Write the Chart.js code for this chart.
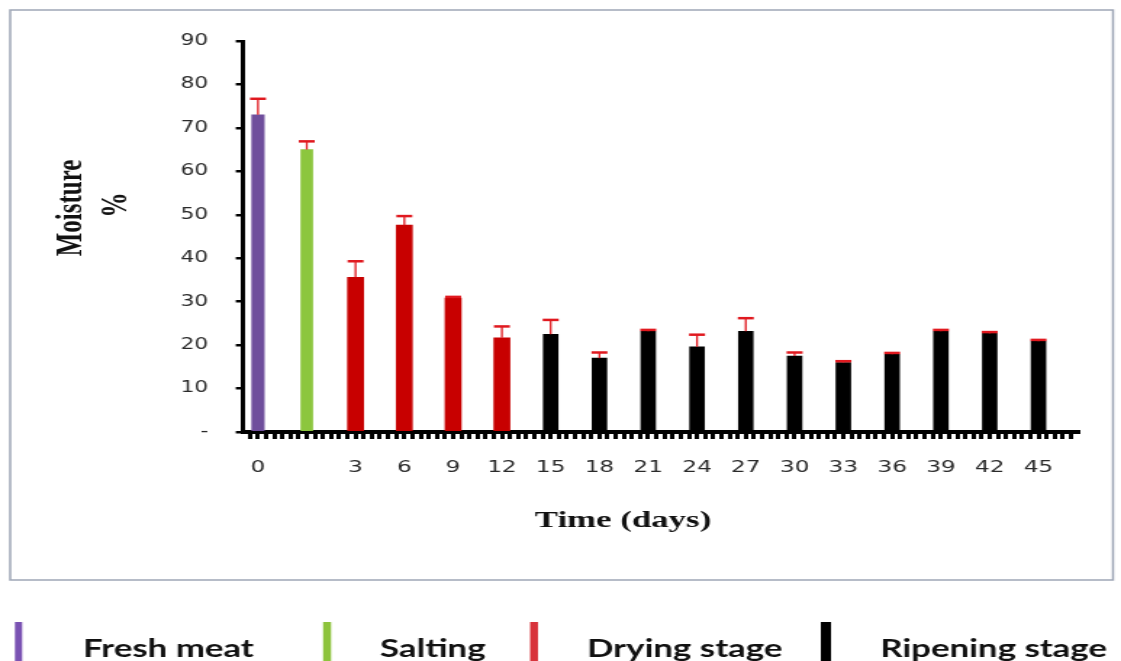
<!DOCTYPE html>
<html>
<head>
<meta charset="utf-8">
<script src="https://cdn.jsdelivr.net/npm/chart.js@4"></script>
<style>
  html, body { margin: 0; padding: 0; background: #fff; overflow: hidden; }
  /* the figure is laid out on a narrower canvas and widened horizontally */
  #wrap { width: 773px; height: 661px; transform: scaleX(1.4502); transform-origin: 0 0; }
</style>
</head>
<body>
<div id="wrap"><canvas id="c" width="773" height="661"></canvas></div>
<script>
// Sampling points (days); the salting sample has no day label
const dayLabels = ['0', '', '3', '6', '9', '12', '15', '18', '21', '24', '27', '30', '33', '36', '39', '42', '45'];
// Moisture content (%) and its error
const moisture    = [73.0, 65.0, 35.6, 47.6, 30.8, 21.7, 22.5, 17.0, 23.2, 19.6, 23.2, 17.5, 16.0, 17.9, 23.2, 22.7, 20.9];
const moistureErr = [3.7, 1.9, 3.7, 2.1, 0.3, 2.6, 3.3, 1.3, 0.3, 2.8, 3.0, 0.8, 0.3, 0.3, 0.3, 0.3, 0.3];
// Processing stage of each sample
const stageOf = [0, 1, 2, 2, 2, 2, 3, 3, 3, 3, 3, 3, 3, 3, 3, 3, 3];
const stageNames = ['Fresh meat', 'Salting', 'Drying stage', 'Ripening stage'];
const stageColors = ['#6f4e9c', '#8cc63e', '#c80000', '#000000'];
const legendColors = ['#7a52b3', '#8dc33b', '#d8333b', '#000000'];
const stageBarWidth = [8.5, 8, 11, 10];
// Y axis ticks
const yTickValues = [0, 10, 20, 30, 40, 50, 60, 70, 80, 90];
const yTickLabels = ['-', '10', '20', '30', '40', '50', '60', '70', '80', '90'];

const datasets = stageNames.map((name, k) => ({
  label: name,
  data: moisture.map((v, i) => ({ x: i, y: v })).filter(p => stageOf[p.x] === k),
  backgroundColor: stageColors[k],
  borderWidth: 0,
  barThickness: stageBarWidth[k],
  grouped: false
}));

const errorBars = {
  id: 'errorBars',
  afterDatasetsDraw(chart) {
    const ctx = chart.ctx, ys = chart.scales.y;
    ctx.save();
    ctx.strokeStyle = '#e0191f';
    chart.data.datasets.forEach((ds, k) => {
      chart.getDatasetMeta(k).data.forEach((bar, j) => {
        const idx = ds.data[j].x;
        const top = ys.getPixelForValue(moisture[idx] + moistureErr[idx]);
        ctx.lineWidth = 1.3;
        ctx.beginPath(); ctx.moveTo(bar.x, bar.y); ctx.lineTo(bar.x, top); ctx.stroke();
        ctx.lineWidth = 2.5;
        ctx.beginPath(); ctx.moveTo(bar.x - 5.5, top); ctx.lineTo(bar.x + 5.5, top); ctx.stroke();
      });
    });
    ctx.restore();
  }
};

const decorations = {
  id: 'decorations',
  beforeDraw(chart) {
    const ctx = chart.ctx;
    ctx.save();
    ctx.fillStyle = '#fff';
    ctx.fillRect(0, 0, chart.width, chart.height);
    ctx.strokeStyle = '#9ea6b6';
    ctx.lineWidth = 1.5;
    ctx.strokeRect(7, 10, 760.5, 570);
    ctx.restore();
  },
  afterDraw(chart) {
    const ctx = chart.ctx;
    ctx.save();
    ctx.fillStyle = '#111';
    ctx.textAlign = 'center';
    ctx.textBaseline = 'middle';
    // axis titles
    ctx.font = 'bold 24px "Liberation Serif"';
    ctx.fillText('Time (days)', 429.6, 521);
    ctx.save();
    ctx.translate(49.7, 208);
    ctx.rotate(-Math.PI / 2);
    ctx.font = 'bold 25px "Liberation Serif"';
    ctx.fillText('Moisture', 0, 0);
    ctx.restore();
    ctx.save();
    ctx.translate(80.7, 205);
    ctx.rotate(-Math.PI / 2);
    ctx.font = 'bold 25px "Liberation Serif"';
    ctx.fillText('%', 0, 0);
    ctx.restore();
    // stage legend
    const swatchX = [10.3, 222.8, 365.5, 566];
    const swatchW = [5, 5.5, 5.5, 7];
    const textX = [57.2, 262, 404.8, 606.9];
    ctx.textAlign = 'left';
    ctx.textBaseline = 'alphabetic';
    ctx.font = 'bold 24px Lato';
    stageNames.forEach((name, k) => {
      ctx.fillStyle = legendColors[k];
      ctx.fillRect(swatchX[k], 622, swatchW[k], 45);
      ctx.fillStyle = '#111';
      ctx.fillText(name, textX[k], 657);
    });
    ctx.restore();
  }
};

new Chart(document.getElementById('c'), {
  type: 'bar',
  data: { datasets },
  options: {
    responsive: false,
    devicePixelRatio: 1,
    animation: false,
    layout: { padding: { left: 0, top: 41, right: 30, bottom: 0 } },
    plugins: { legend: { display: false }, tooltip: { enabled: false } },
    scales: {
      x: {
        type: 'linear',
        min: -0.306,
        max: 16.8,
        offset: false,
        afterFit(s) { s.height = 229; },
        border: { display: true, color: '#000', width: 4 },
        grid: { offset: false, drawOnChartArea: false, drawTicks: true, tickLength: 7, lineWidth: 3, color: '#000' },
        ticks: {
          stepSize: 1 / 6,
          includeBounds: false,
          autoSkip: false,
          maxRotation: 0,
          padding: 19,
          color: '#2a2a2a',
          font: { family: 'DejaVu Sans', size: 16 },
          callback(v) {
            const r = Math.round(v);
            if (Math.abs(v - r) < 1e-6 && r >= 0 && r < dayLabels.length) return dayLabels[r];
            return '';
          }
        }
      },
      y: {
        min: 0,
        max: 90,
        afterFit(s) { s.width = 167.6; },
        afterBuildTicks(s) { s.ticks = yTickValues.map(v => ({ value: v })); },
        border: { display: true, color: '#000', width: 3 },
        grid: { drawOnChartArea: false, drawTicks: true, tickLength: 5, lineWidth: 2.5, color: '#000' },
        ticks: {
          padding: 19,
          color: '#2a2a2a',
          font: { family: 'DejaVu Sans', size: 15 },
          callback(v) { return yTickLabels[yTickValues.indexOf(v)]; }
        }
      }
    }
  },
  plugins: [decorations, errorBars]
});
</script>
</body>
</html>
